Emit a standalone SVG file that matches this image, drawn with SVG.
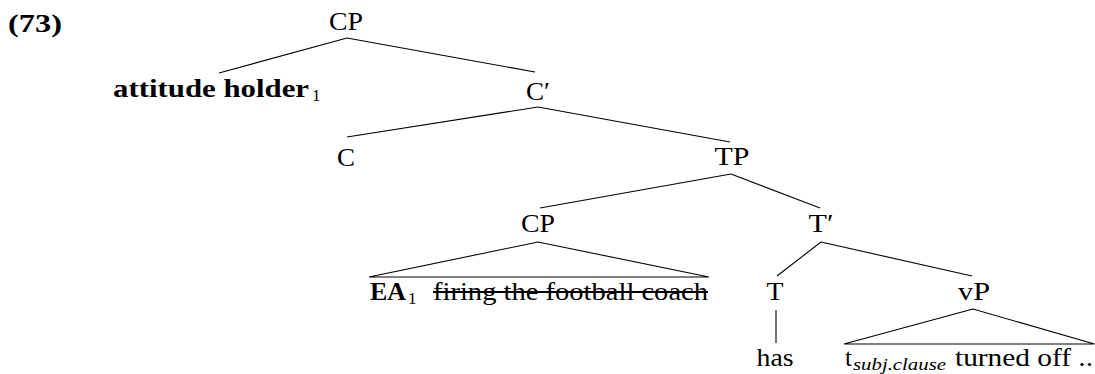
<svg xmlns="http://www.w3.org/2000/svg" width="1095" height="374" viewBox="0 0 1095 374">
<style>
text { font-family: "Liberation Serif", "Times New Roman", "DejaVu Serif", serif; font-size: 25px; fill: #000; }
.b { font-weight: bold; }
.c { text-anchor: middle; }
.sub { font-size: 17px; }
.edge { stroke: #000; stroke-width: 1.1; fill: none; }
.strike { stroke: #000; stroke-width: 2.2; }
</style>
<rect width="1095" height="374" fill="#fff"/>
<text id="label" class="b" x="8" y="32" textLength="54" lengthAdjust="spacingAndGlyphs">(73)</text>
<g id="connectors">
<line class="edge" x1="347" y1="38" x2="219" y2="73"/>
<line class="edge" x1="347" y1="38" x2="535" y2="72"/>
<line class="edge" x1="538" y1="107" x2="347" y2="137"/>
<line class="edge" x1="538" y1="107" x2="730" y2="142"/>
<line class="edge" x1="731" y1="174" x2="540" y2="208"/>
<line class="edge" x1="731" y1="174" x2="820" y2="208"/>
<polygon class="edge" points="538,242 369,277 709,277"/>
<line class="edge" x1="821" y1="242" x2="777" y2="276"/>
<line class="edge" x1="821" y1="242" x2="972" y2="276"/>
<line class="edge" x1="776" y1="310" x2="776" y2="343"/>
<polygon class="edge" points="973,309 844,344 1094.5,344"/>
</g>
<g id="n-cp-top"><text class="c" x="346" y="30" textLength="34" lengthAdjust="spacingAndGlyphs">CP</text></g>
<g id="n-attitude"><text class="b" x="113" y="97" textLength="196" lengthAdjust="spacingAndGlyphs">attitude holder</text><text class="sub" x="312" y="101">1</text></g>
<g id="n-cbar"><text class="c" x="538" y="100" textLength="24" lengthAdjust="spacingAndGlyphs">C′</text></g>
<g id="n-c"><text class="c" x="346" y="166" textLength="18" lengthAdjust="spacingAndGlyphs">C</text></g>
<g id="n-tp"><text class="c" x="732" y="165" textLength="35" lengthAdjust="spacingAndGlyphs">TP</text></g>
<g id="n-cp-low"><text class="c" x="538" y="232" textLength="34" lengthAdjust="spacingAndGlyphs">CP</text></g>
<g id="n-tbar"><text class="c" x="821" y="232" textLength="25" lengthAdjust="spacingAndGlyphs">T′</text></g>
<g id="n-ea"><text class="b" x="370" y="300" textLength="36" lengthAdjust="spacingAndGlyphs">EA</text><text class="sub" x="408" y="304">1</text><text x="433" y="300" textLength="275" lengthAdjust="spacingAndGlyphs">firing the football coach</text><line class="strike" x1="433" y1="292" x2="708" y2="292"/></g>
<g id="n-t"><text class="c" x="775" y="300" textLength="17" lengthAdjust="spacingAndGlyphs">T</text></g>
<g id="n-vp"><text class="c" x="974" y="300" textLength="32" lengthAdjust="spacingAndGlyphs">vP</text></g>
<g id="n-has"><text class="c" x="775" y="366" textLength="37" lengthAdjust="spacingAndGlyphs">has</text></g>
<g id="n-tsubj"><text x="845" y="366">t</text><text class="sub" x="853" y="370" font-style="italic" textLength="93" lengthAdjust="spacingAndGlyphs">subj.clause</text><text x="955" y="366" textLength="138" lengthAdjust="spacingAndGlyphs">turned off ..</text></g>
</svg>
